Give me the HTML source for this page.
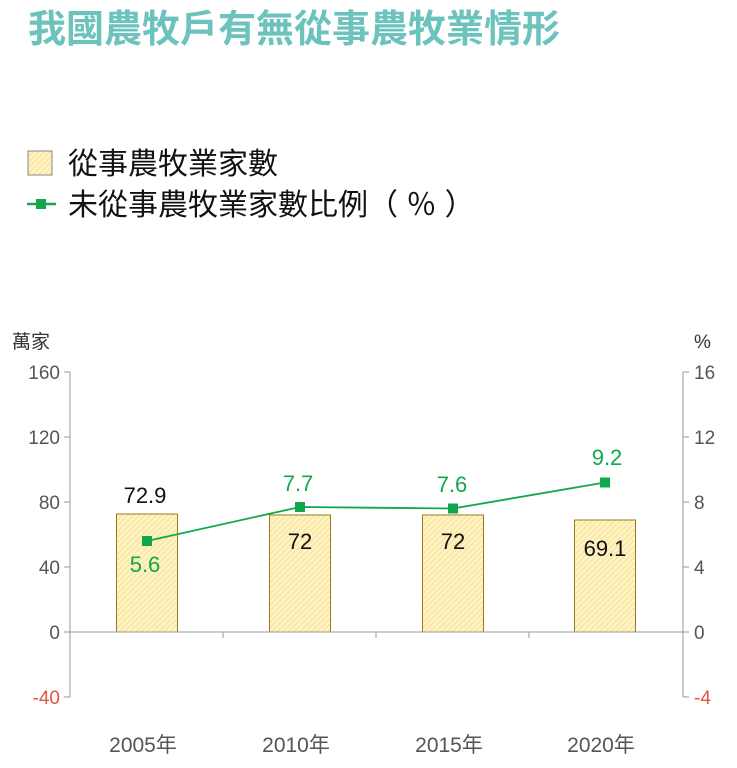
<!DOCTYPE html>
<html><head><meta charset="utf-8"><style>
body{margin:0;background:#fff;width:737px;height:763px;overflow:hidden;font-family:"Liberation Sans","Noto Sans CJK TC",sans-serif}
</style></head><body>
<svg width="737" height="763" xmlns="http://www.w3.org/2000/svg" font-family="Liberation Sans, Noto Sans CJK TC, sans-serif">
<defs>
<pattern id="h" width="4" height="4" patternUnits="userSpaceOnUse" patternTransform="rotate(45)">
<rect width="4" height="4" fill="#fbe9a6"/><rect width="1.5" height="4" fill="#fff6d6"/>
</pattern>
</defs>
<text x="28" y="42" font-size="38" font-weight="bold" fill="#6cc3bd">我國農牧戶有無從事農牧業情形</text>
<rect x="28" y="151" width="24" height="24" fill="url(#h)" stroke="#888" stroke-width="1"/>
<text x="68" y="174" font-size="30" fill="#111">從事農牧業家數</text>
<line x1="27" y1="204" x2="56" y2="204" stroke="#11a84d" stroke-width="2.5"/>
<rect x="36" y="199" width="10" height="10" fill="#11a84d"/>
<text x="68" y="215" font-size="30" fill="#111" xml:space="preserve">未從事農牧業家數比例（ ％ ）</text>
<text x="12" y="348" font-size="19" fill="#333">萬家</text>
<text x="694" y="348" font-size="19" fill="#333">%</text>
<g stroke="#999" stroke-width="1">
<line x1="70" y1="372" x2="70" y2="697"/>
<line x1="683" y1="372" x2="683" y2="697"/>
<line x1="64" y1="372" x2="70" y2="372"/><line x1="64" y1="437" x2="70" y2="437"/><line x1="64" y1="502" x2="70" y2="502"/><line x1="64" y1="567" x2="70" y2="567"/><line x1="64" y1="632" x2="70" y2="632"/><line x1="64" y1="697" x2="70" y2="697"/>
<line x1="683" y1="372" x2="689" y2="372"/><line x1="683" y1="437" x2="689" y2="437"/><line x1="683" y1="502" x2="689" y2="502"/><line x1="683" y1="567" x2="689" y2="567"/><line x1="683" y1="632" x2="689" y2="632"/><line x1="683" y1="697" x2="689" y2="697"/>
<line x1="223" y1="632" x2="223" y2="638"/><line x1="376" y1="632" x2="376" y2="638"/><line x1="529" y1="632" x2="529" y2="638"/>
</g>
<g font-size="19" fill="#555" text-anchor="end">
<text x="60" y="379">160</text><text x="60" y="444">120</text><text x="60" y="509">80</text><text x="60" y="574">40</text><text x="60" y="639">0</text><text x="60" y="704" fill="#e0553a">-40</text>
</g>
<g font-size="19" fill="#555">
<text x="694" y="379">16</text><text x="694" y="444">12</text><text x="694" y="509">8</text><text x="694" y="574">4</text><text x="694" y="639">0</text><text x="694" y="704" fill="#e0553a">-4</text>
</g>
<g fill="url(#h)" stroke="#9a7a1c" stroke-width="1">
<rect x="116.5" y="514" width="61" height="118"/>
<rect x="269.5" y="515" width="61" height="117"/>
<rect x="422.5" y="515" width="61" height="117"/>
<rect x="574.5" y="520" width="61" height="112"/>
</g>
<line x1="70" y1="632" x2="683" y2="632" stroke="#999" stroke-width="1"/>
<g font-size="22" fill="#111" text-anchor="middle">
<text x="145" y="503">72.9</text><text x="300" y="549">72</text><text x="453" y="549">72</text><text x="605" y="556">69.1</text>
</g>
<polyline points="147,541 300,507 453,508.5 605,482.5" fill="none" stroke="#11a84d" stroke-width="1.8"/>
<g fill="#11a84d">
<rect x="142" y="536" width="10" height="10"/><rect x="295" y="502" width="10" height="10"/><rect x="448" y="503.5" width="10" height="10"/><rect x="600" y="477.5" width="10" height="10"/>
</g>
<g font-size="22" fill="#11a84d" text-anchor="middle">
<text x="145" y="572">5.6</text><text x="298" y="491">7.7</text><text x="452" y="492">7.6</text><text x="607" y="465">9.2</text>
</g>
<g font-size="21" fill="#555" text-anchor="middle">
<text x="143" y="752">2005年</text><text x="296" y="752">2010年</text><text x="449" y="752">2015年</text><text x="601" y="752">2020年</text>
</g>
</svg>
</body></html>
